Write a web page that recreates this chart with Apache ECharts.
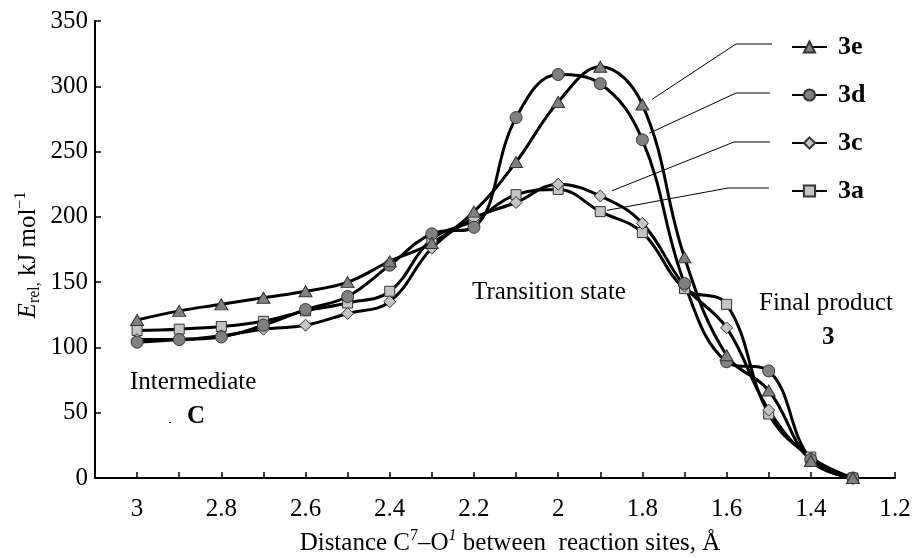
<!DOCTYPE html>
<html>
<head>
<meta charset="utf-8">
<script src="https://cdn.jsdelivr.net/npm/echarts@6/dist/echarts.min.js"></script>
<style>html,body{margin:0;padding:0;background:#fff}#c{width:918px;height:558px}</style>
</head>
<body>
<div id="c"></div>
<script>
// distances (Å)
var distances = [3.0, 2.9, 2.8, 2.7, 2.6, 2.5, 2.4, 2.3, 2.2, 2.1, 2.0, 1.9, 1.8, 1.7, 1.6, 1.5, 1.4, 1.3];
// relative energies (kJ/mol)
var e3e = [121, 128, 133, 138, 143, 150, 166, 180, 204, 242, 288, 315, 286, 169, 94, 67, 13, 0];
var e3d = [104, 106, 108, 117, 129, 139, 163, 187, 192, 276, 309, 302, 259, 149, 89, 82, 14, 0];
var e3c = [106, 106, 109, 114, 117, 126, 135, 176, 199, 211, 225, 216, 195, 147, 115, 52, 15, 0];
var e3a = [113, 114, 116, 120, 128, 134, 143, 183, 197, 217, 221, 204, 188, 145, 133, 49, 16, 0];
var seriesNames = ['3e', '3d', '3c', '3a'];
var yTicks = [0, 50, 100, 150, 200, 250, 300, 350];
// leader-line anchor points near the curves (data space)
var leaderAnchors = [[1.777, 290], [1.784, 264], [1.872, 220], [1.884, 205]];

var FONT = '"Liberation Serif", "Times New Roman", serif';
function pairs(arr){ return distances.map(function(d,i){ return [d, arr[i]]; }); }

var chart = echarts.init(document.getElementById('c'));
function mk(name, data, symbol, fill, size) {
  return {
    type: 'line', smooth: 0.4, name: name, data: pairs(data), symbol: symbol, symbolSize: size,
    lineStyle: { color: '#000', width: 3 },
    itemStyle: { color: fill, borderColor: '#333', borderWidth: 1 },
    emphasis: { disabled: true }
  };
}
var series = [
  mk('3a', e3a, 'rect', '#c4c4c4', 10),
  mk('3c', e3c, 'diamond', '#c4c4c4', 12),
  mk('3d', e3d, 'circle', '#808080', 12),
  mk('3e', e3e, 'triangle', '#808080', [13, 11])
];

chart.setOption({
  animation: false,
  grid: { left: 95, right: 23, top: 21, bottom: 80 },
  legend: {
    data: seriesNames, orient: 'vertical', left: 786, top: 29,
    itemGap: 22, itemWidth: 35, itemHeight: 14,
    textStyle: { fontFamily: FONT, fontSize: 26, fontWeight: 'bold', color: '#000', lineHeight: 26, padding: [0,0,0,6] }
  },
  xAxis: {
    type: 'value', min: 1.2, max: 3.1, interval: 0.1, inverse: true,
    axisLine: { lineStyle: { color: '#000', width: 2 } },
    axisTick: { inside: true, length: 6, lineStyle: { color: '#000', width: 1.5 } },
    splitLine: { show: false },
    axisLabel: {
      fontFamily: FONT, fontSize: 25, color: '#000', margin: 19,
      formatter: function(v){ var t = Math.round(v*10); return t % 2 === 0 ? String(t/10) : ''; }
    }
  },
  yAxis: {
    type: 'value', min: 0, max: 350, interval: 50,
    axisLine: { show: true, lineStyle: { color: '#000', width: 2 } },
    axisTick: { show: true, inside: true, length: 6, lineStyle: { color: '#000', width: 1.5 } },
    splitLine: { show: false },
    axisLabel: { fontFamily: FONT, fontSize: 25, color: '#000', margin: 7,
      formatter: function(v){ return yTicks.indexOf(v) >= 0 ? String(v) : ''; } }
  },
  series: series
});

var leaderEnds = [[736, 44, 772], [736, 93, 770], [734, 142, 770], [728, 188, 769]];
var graphics = [];
leaderAnchors.forEach(function(a, i){
  var p = chart.convertToPixel({ gridIndex: 0 }, a);
  var e = leaderEnds[i];
  graphics.push({ type: 'polyline', silent: true,
    shape: { points: [p, [e[0], e[1]], [e[2], e[1]]] },
    style: { stroke: '#000', lineWidth: 1, fill: null } });
});
var txt = function(x, y, text, extra){
  return { type: 'text', left: x, top: y, silent: true,
    style: Object.assign({ text: text, font: '25px ' + FONT, fill: '#000' }, extra || {}) };
};
graphics.push(txt(130, 370, 'Intermediate'));
graphics.push(txt(187, 404, 'C', { font: 'bold 25px ' + FONT }));
graphics.push({ type: 'rect', silent: true, shape: { x: 169, y: 422, width: 2, height: 1 }, style: { fill: '#000' } });
graphics.push(txt(472, 280, 'Transition state'));
graphics.push(txt(759, 291, 'Final product'));
graphics.push(txt(822, 325, '3', { font: 'bold 25px ' + FONT }));
// axis titles
graphics.push({ type: 'text', silent: true, x: 510, y: 543,
  style: { text: 'Distance C{sup|7}–O{supi|1} between  reaction sites, Å', font: '25px ' + FONT, fill: '#000',
    align: 'center', verticalAlign: 'middle', lineHeight: 30,
    rich: { sup: { fontSize: 16, fontFamily: FONT, verticalAlign: 'top', lineHeight: 16 },
            supi: { fontSize: 16, fontFamily: FONT, fontStyle: 'italic', verticalAlign: 'top', lineHeight: 16 } } } });
graphics.push({ type: 'text', silent: true, x: 28, y: 255, rotation: Math.PI / 2,
  style: { text: '{i|E}{sub|rel,} kJ mol{sup|−1}', font: '25px ' + FONT, fill: '#000',
    align: 'center', verticalAlign: 'middle', lineHeight: 30,
    rich: { i: { fontStyle: 'italic', fontSize: 25, fontFamily: FONT, lineHeight: 30 },
            sub: { fontSize: 16, fontFamily: FONT, verticalAlign: 'bottom', lineHeight: 16 },
            sup: { fontSize: 16, fontFamily: FONT, verticalAlign: 'top', lineHeight: 16 } } } });
chart.setOption({ graphic: graphics });
</script>
</body>
</html>
